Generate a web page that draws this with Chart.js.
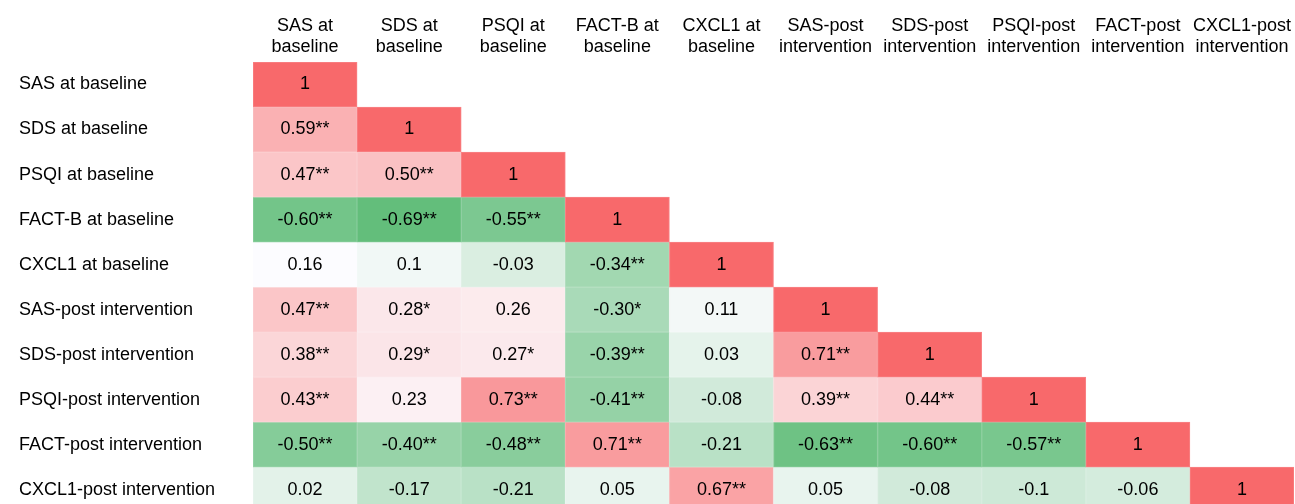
<!DOCTYPE html>
<html lang="en">
<head>
<meta charset="utf-8">
<title>Correlation matrix</title>
<script src="https://cdn.jsdelivr.net/npm/chart.js@4.4.1/dist/chart.umd.min.js"></script>
<style>
  html, body { margin: 0; padding: 0; background: #fff; overflow: hidden; }
</style>
</head>
<body>
<canvas id="heat" width="1295" height="523"></canvas>
<script>
// column headers (two lines each) and row names
var colLabels = [
  ['SAS at', 'baseline'], ['SDS at', 'baseline'], ['PSQI at', 'baseline'],
  ['FACT-B at', 'baseline'], ['CXCL1 at', 'baseline'],
  ['SAS-post', 'intervention'], ['SDS-post', 'intervention'], ['PSQI-post', 'intervention'],
  ['FACT-post', 'intervention'], ['CXCL1-post', 'intervention']
];
var rowLabels = [
  'SAS at baseline', 'SDS at baseline', 'PSQI at baseline', 'FACT-B at baseline',
  'CXCL1 at baseline', 'SAS-post intervention', 'SDS-post intervention',
  'PSQI-post intervention', 'FACT-post intervention', 'CXCL1-post intervention'
];

// lower triangle, one array per row
var corr = [
  [1],
  [0.59, 1],
  [0.47, 0.50, 1],
  [-0.60, -0.69, -0.55, 1],
  [0.16, 0.1, -0.03, -0.34, 1],
  [0.47, 0.28, 0.26, -0.30, 0.11, 1],
  [0.38, 0.29, 0.27, -0.39, 0.03, 0.71, 1],
  [0.43, 0.23, 0.73, -0.41, -0.08, 0.39, 0.44, 1],
  [-0.50, -0.40, -0.48, 0.71, -0.21, -0.63, -0.60, -0.57, 1],
  [0.02, -0.17, -0.21, 0.05, 0.67, 0.05, -0.08, -0.1, -0.06, 1]
];
var stars = [
  [''],
  ['**', ''],
  ['**', '**', ''],
  ['**', '**', '**', ''],
  ['', '', '', '**', ''],
  ['**', '*', '', '*', '', ''],
  ['**', '*', '*', '**', '', '**', ''],
  ['**', '', '**', '**', '', '**', '**', ''],
  ['**', '**', '**', '**', '', '**', '**', '**', ''],
  ['', '', '', '', '**', '', '', '', '', '']
];

// excel style 3 colour scale: green (min) - white (median) - red (max)
var all = [].concat.apply([], corr).slice().sort(function(a, b){ return a - b; });
var vMin = all[0], vMax = all[all.length - 1];
var vMid = all[Math.floor(all.length / 2)];
var green = [99, 190, 123], white = [252, 252, 255], red = [248, 105, 107];

function mixRgb(a, b, t) {
  return a.map(function(c, k){ return Math.round(c + (b[k] - c) * t); });
}
function cellRgb(v) {
  if (v <= vMid) return mixRgb(green, white, (v - vMin) / (vMid - vMin));
  return mixRgb(white, red, (v - vMid) / (vMax - vMid));
}
function css(c) { return 'rgb(' + c.join(',') + ')'; }
function cellText(v, s) {
  return (s ? v.toFixed(2) : String(v)) + s;
}

var datasets = rowLabels.map(function(name, i){
  var data = [], fills = [], edges = [];
  for (var j = 0; j < colLabels.length; j++) {
    if (j <= i) {
      var c = cellRgb(corr[i][j]);
      data.push([i, i + 1]);
      fills.push(css(c));
      edges.push(css(mixRgb(c, white, 0.18)));   // faint excel gridline
    } else {
      data.push(null);
      fills.push('rgba(0,0,0,0)');
      edges.push('rgba(0,0,0,0)');
    }
  }
  return {
    label: name,
    data: data,
    backgroundColor: fills,
    borderColor: edges,
    borderWidth: 1,
    borderSkipped: false,
    barPercentage: 1,
    categoryPercentage: 1,
    grouped: false
  };
});

var FONT = "'Liberation Sans', Arial, sans-serif";

var cellLabels = {
  id: 'cellLabels',
  afterDatasetsDraw: function(chart) {
    var ctx = chart.ctx;
    ctx.save();
    ctx.font = '18px ' + FONT;
    ctx.fillStyle = '#000';
    ctx.textAlign = 'center';
    ctx.textBaseline = 'middle';
    chart.data.datasets.forEach(function(ds, i){
      var meta = chart.getDatasetMeta(i);
      meta.data.forEach(function(bar, j){
        if (j > i) return;
        ctx.fillText(cellText(corr[i][j], stars[i][j]), bar.x, (bar.y + bar.base) / 2);
      });
    });
    ctx.restore();
  }
};

new Chart(document.getElementById('heat'), {
  type: 'bar',
  data: { labels: colLabels, datasets: datasets },
  options: {
    responsive: false,
    animation: false,
    layout: { padding: { left: 19, top: 0, right: 0, bottom: 0 } },
    plugins: { legend: { display: false }, tooltip: { enabled: false } },
    scales: {
      x: {
        position: 'top',
        grid: { display: false, drawTicks: false },
        border: { display: false },
        ticks: {
          color: '#000', font: { family: FONT, size: 18, lineHeight: 1.2 },
          maxRotation: 0, autoSkip: false, padding: 4
        },
        afterFit: function(s){ s.height = 62; }
      },
      y: {
        type: 'linear', min: 0, max: 10, reverse: true,
        grid: { display: false, drawTicks: false },
        border: { display: false },
        afterBuildTicks: function(s){
          s.ticks = rowLabels.map(function(_, i){ return { value: i + 0.5 }; });
        },
        ticks: {
          color: '#000', font: { family: FONT, size: 18 },
          crossAlign: 'far', autoSkip: false, padding: 0,
          callback: function(v){ return rowLabels[Math.floor(v)]; }
        },
        afterFit: function(s){ s.width = 234; }
      }
    }
  },
  plugins: [cellLabels]
});
</script>
</body>
</html>
